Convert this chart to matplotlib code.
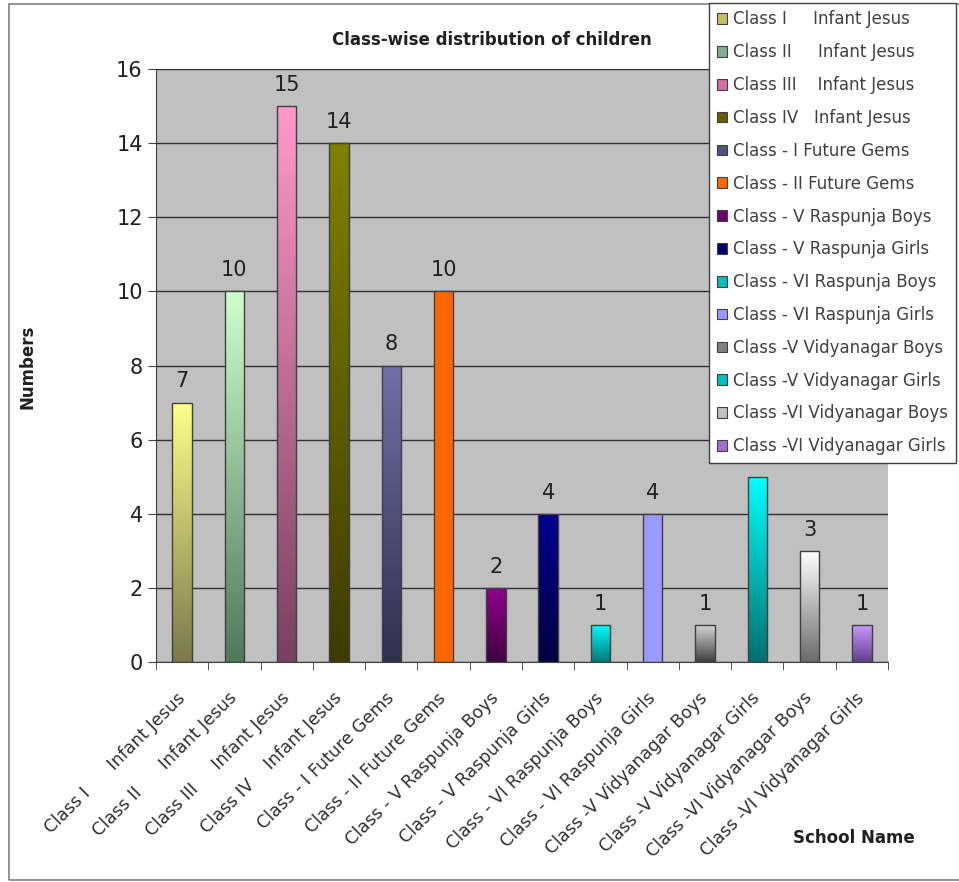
import matplotlib as mpl
mpl.use('Agg')
import matplotlib.pyplot as plt
import numpy as np
from matplotlib.colors import LinearSegmentedColormap
from matplotlib.patches import Rectangle, Patch

plt.rcParams['font.family'] = ['DejaVu Sans']

names = ["Class I      Infant Jesus", "Class II      Infant Jesus",
         "Class III     Infant Jesus", "Class IV    Infant Jesus",
         "Class - I Future Gems", "Class - II Future Gems",
         "Class - V Raspunja Boys", "Class - V Raspunja Girls",
         "Class - VI Raspunja Boys", "Class - VI Raspunja Girls",
         "Class -V Vidyanagar Boys", "Class -V Vidyanagar Girls",
         "Class -VI Vidyanagar Boys", "Class -VI Vidyanagar Girls"]
legend_names = ["Class I     Infant Jesus", "Class II     Infant Jesus",
                "Class III    Infant Jesus", "Class IV   Infant Jesus",
                "Class - I Future Gems", "Class - II Future Gems",
                "Class - V Raspunja Boys", "Class - V Raspunja Girls",
                "Class - VI Raspunja Boys", "Class - VI Raspunja Girls",
                "Class -V Vidyanagar Boys", "Class -V Vidyanagar Girls",
                "Class -VI Vidyanagar Boys", "Class -VI Vidyanagar Girls"]
values = [7, 10, 15, 14, 8, 10, 2, 4, 1, 4, 1, 5, 3, 1]

# gradient colours: top -> bottom
top_colors = ["#ffff88", "#ccffcc", "#ff99cc", "#808000", "#7070a8", "#ff6600",
              "#900090", "#000090", "#00ffff", "#9999ff", "#d8d8d8", "#00ffff",
              "#ffffff", "#cc99ff"]
bottom_colors = ["#7a7a4c", "#4f7a5a", "#7a4060", "#3c3c00", "#303050", "#ff6600",
                 "#400040", "#000040", "#007878", "#9999ff", "#404040", "#007070",
                 "#6c6c6c", "#604090"]
swatch_colors = ["#c0c060", "#80b090", "#d070a0", "#606000", "#505080", "#ff6600",
                 "#700070", "#000070", "#00c0c0", "#9999ff", "#808080", "#00c0c0",
                 "#c0c0c0", "#a070d0"]

fig = plt.figure(figsize=(9.59, 8.82), dpi=100)
fig.patches.append(Rectangle((9/959, 2/882), 1.0, 876/882, transform=fig.transFigure,
                             fill=False, edgecolor="#808080", linewidth=1.2))

ax = fig.add_axes([156/959, 1-662/882, 732/959, 593/882])
ax.set_facecolor("#c0c0c0")
x = np.arange(len(values))
w = 0.37
ax.grid(axis='y', color='#303030', linewidth=1)
ax.set_axisbelow(True)

bars = ax.bar(x, values, width=w, color='none', edgecolor='#404040', linewidth=1, zorder=3)
grad = np.linspace(1, 0, 100).reshape(-1, 1)
for b, v, tc, bc in zip(bars, values, top_colors, bottom_colors):
    cmap = LinearSegmentedColormap.from_list('g', [bc, tc])
    x0 = b.get_x()
    im = ax.imshow(grad, cmap=cmap, vmin=0, vmax=1, aspect='auto',
                   extent=[x0, x0 + w, 0, v], zorder=2)
    im.set_clip_path(b)
    ax.text(b.get_x() + w/2, v + 0.3, str(v), ha='center', va='bottom', fontsize=15,
            color='#202020')
ax.set_xlim(-0.5, len(values)-0.5)
ax.set_ylim(0, 16)
ax.set_yticks(range(0, 17, 2))

for s in ['top', 'right']:
    ax.spines[s].set_visible(False)
ax.spines['left'].set_color('#404040')
ax.spines['bottom'].set_color('#404040')
ax.set_xticks(x)
ax.set_xticklabels(names, rotation=45, ha='right', va='center', rotation_mode='anchor',
                   fontsize=12.5, color='#303030')
ax.set_xticks(np.arange(-0.5, len(values)), minor=True)
ax.tick_params(axis='x', which='major', length=0, pad=24)
ax.tick_params(axis='x', which='minor', length=6, color='#404040')
ax.tick_params(axis='y', labelsize=15, length=6, color='#404040', labelcolor='#202020')

fig.text(492/959, 1-40/882, "Class-wise distribution of children", ha='center', va='center',
         fontsize=12, fontweight='bold', color='#202020')
fig.text(27/959, 1-367/882, "Numbers", rotation=90, ha='center', va='center',
         fontsize=12, fontweight='bold', color='#202020')
fig.text(854/959, 1-838/882, "School Name", ha='center', va='center',
         fontsize=12, fontweight='bold', color='#202020')

handles = [Patch(facecolor=c, edgecolor='#404040', linewidth=0.8) for c in swatch_colors]
leg = fig.legend(handles, legend_names, loc='upper left',
                 bbox_to_anchor=(709/959, 1-3/882), fontsize=12, frameon=True,
                 fancybox=False, edgecolor='#404040', framealpha=1,
                 handlelength=0.6, handleheight=0.6,
                 handletextpad=0.4, labelspacing=0.89, borderpad=0.45, borderaxespad=0)
leg.get_frame().set_linewidth(1)
for t in leg.get_texts():
    t.set_color('#404040')

fig.savefig('out.png', dpi=100)
